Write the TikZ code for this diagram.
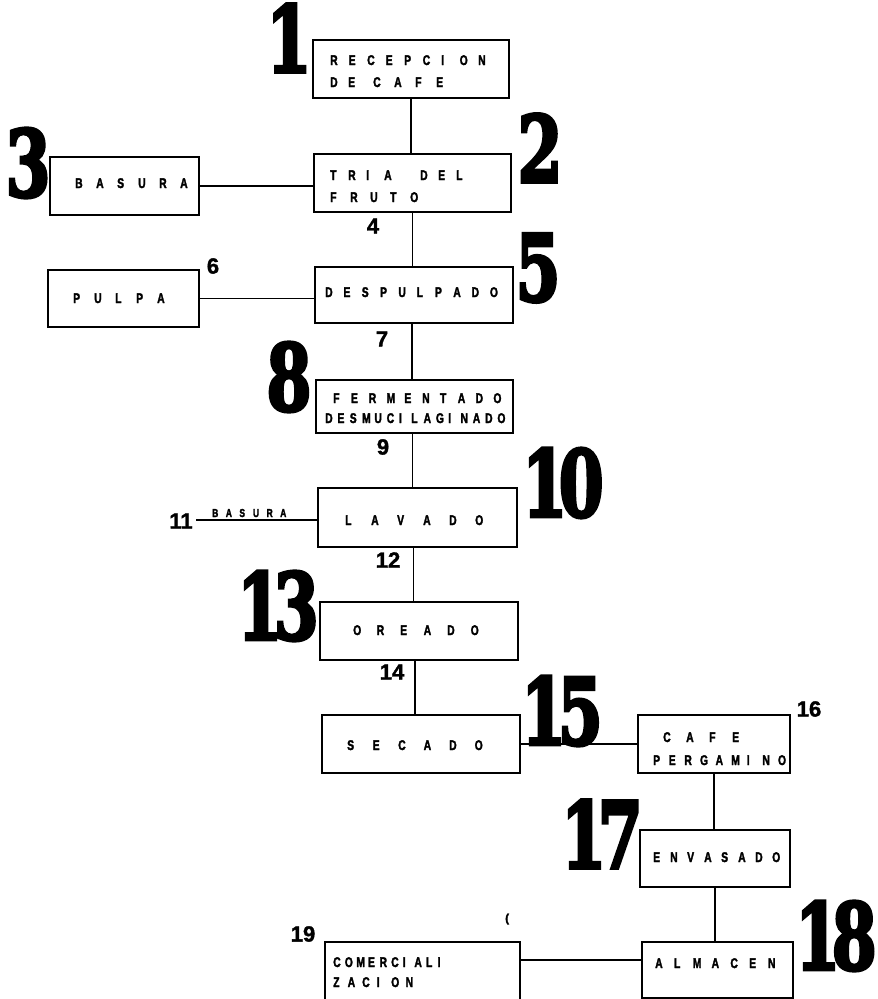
\documentclass[tikz,border=0pt]{standalone}
\usepackage{fontspec}
\usepackage{graphicx}
\newfontfamily\lblfont{Liberation Sans}[FakeBold=2.5]
\newfontfamily\numfont{Liberation Sans}[FakeBold=1.5]
\newfontfamily\bigfont{DejaVu Serif}[FakeBold=4]
\ExplSyntaxOn
\NewDocumentCommand\lsp{mm}{
  \str_map_inline:nn {#2} {
    \str_if_eq:nnTF {##1} {|} {\hspace*{#1}} {\makebox[#1][l]{\scalebox{0.74}[1]{##1}}}
  }
}
\ExplSyntaxOff
\newcommand\lbl{\lblfont\bfseries\fontsize{14}{14}\selectfont}
\newcommand\slbl{\lblfont\bfseries\fontsize{11.5}{11.5}\selectfont}
\newcommand\smn{\numfont\bfseries\fontsize{22}{22}\selectfont}
\newcommand\bign[1]{\scalebox{0.7}[1]{\bigfont\bfseries\fontsize{92}{92}\selectfont #1}}
\tikzset{
  box/.style={draw, line width=1.8pt, anchor=north west, inner sep=0pt, outer sep=0pt},
  conn/.style={line width=1.5pt},
  txt/.style={anchor=base west, inner sep=0pt, font=\lbl},
  stxt/.style={anchor=base west, inner sep=0pt, font=\slbl},
  bignum/.style={anchor=center, inner sep=0pt},
  smnum/.style={anchor=center, inner sep=0pt, font=\smn},
}
\begin{document}
\begin{tikzpicture}[x=1pt,y=-1pt]
\useasboundingbox (0,0) rectangle (878,999);
\clip (0,0) rectangle (878,999);
% boxes
\node[box, minimum width=196pt, minimum height=58pt] (b1) at (313,40) {};
\node[box, minimum width=197pt, minimum height=58pt] (b2) at (314,154) {};
\node[box, minimum width=149pt, minimum height=58pt] (b3) at (50,157) {};
\node[box, minimum width=198pt, minimum height=56pt] (b5) at (315,267) {};
\node[box, minimum width=151pt, minimum height=57pt] (b6) at (48,270) {};
\node[box, minimum width=197pt, minimum height=53pt] (b8) at (316,380) {};
\node[box, minimum width=199pt, minimum height=59pt] (b10) at (318,488) {};
\node[box, minimum width=198pt, minimum height=58pt] (b13) at (320,602) {};
\node[box, minimum width=198pt, minimum height=58pt] (b15) at (322,715) {};
\node[box, minimum width=152pt, minimum height=58pt] (b16) at (638,715) {};
\node[box, minimum width=150pt, minimum height=57pt] (b17) at (640,830) {};
\node[box, minimum width=151pt, minimum height=56pt] (b18) at (642,942) {};
\node[box, minimum width=195pt, minimum height=63pt] (b19) at (325,942) {};
% box texts
\node[txt] (t1a) at (330,65) {\lsp{18.5pt}{RECEPCION}};
\node[txt] (t1b) at (330,87) {\lsp{18pt}{DE}\hspace{7pt}\lsp{21pt}{CAFE}};
\node[txt] (t2a) at (330,180) {\lsp{18pt}{TRIA|DEL}};
\node[txt] (t2b) at (330,202) {\lsp{20pt}{FRUTO}};
\node[txt] (t3) at (75,188) {\lsp{21pt}{BASURA}};
\node[txt] (t5) at (325,297) {\lsp{18.3pt}{DESPULPADO}};
\node[txt] (t6) at (73,303) {\lsp{21pt}{PULPA}};
\node[txt] (t8a) at (333,403) {\lsp{17.8pt}{FERMENTADO}};
\node[txt] (t8b) at (325,423) {\lsp{12.3pt}{DESMUCILAGINADO}};
\node[txt] (t10) at (345,525) {\lsp{26pt}{LAVADO}};
\node[txt] (t13) at (353,635) {\lsp{23.5pt}{OREADO}};
\node[txt] (t15) at (347,750) {\lsp{25.5pt}{SECADO}};
\node[txt] (t16a) at (663,742) {\lsp{23pt}{CAFE}};
\node[txt] (t16b) at (653,765) {\lsp{15.6pt}{PERGAMINO}};
\node[txt] (t17) at (653,862) {\lsp{17pt}{ENVASADO}};
\node[txt] (t18) at (655,968) {\lsp{18.8pt}{ALMACEN}};
\node[txt] (t19a) at (333,967) {\lsp{11.6pt}{COMERCIALI}};
\node[txt] (t19b) at (333,987) {\lsp{14.5pt}{ZACION}};
\node[stxt] (t11) at (212,517) {\lsp{13.6pt}{BASURA}};
\node[stxt] (paren) at (505,922) {(};
% connectors
\draw[conn] (b1.south) -- (b1.south |- b2.north);
\draw[conn] (b3.east) -- (b3.east -| b2.west);
\draw[conn] (b2.south) -- (b2.south |- b5.north);
\draw[conn] (b6.east) -- (b6.east -| b5.west);
\draw[conn] ([xshift=-2pt]b5.south) -- ([xshift=-2pt]b5.south |- b8.north);
\draw[conn] ([xshift=-2pt]b8.south) -- ([xshift=-2pt]b8.south |- b10.north);
\draw[conn] ([xshift=-4pt]b10.south) -- ([xshift=-4pt]b10.south |- b13.north);
\draw[conn] ([xshift=-4pt]b13.south) -- ([xshift=-4pt]b13.south |- b15.north);
\draw[conn] (b15.east) -- (b15.east -| b16.west);
\draw[conn] (b16.south) -- (b16.south |- b17.north);
\draw[conn] (b17.south) -- (b17.south |- b18.north);
\draw[conn] ([yshift=10pt]b18.west) -- ([yshift=10pt]b18.west -| b19.east);
\coordinate (c11) at (196,520);
\draw[conn] (c11) -- (c11 -| b10.west);
% small numbers
\node[smnum] (n4) at (373,226) {4};
\node[smnum] (n6) at (213,266) {6};
\node[smnum] (n7) at (382,339) {7};
\node[smnum] (n9) at (383,447) {9};
\node[smnum] (n11) at (181,521) {11};
\node[smnum] (n12) at (388,560) {12};
\node[smnum] (n14) at (392,672) {14};
\node[smnum] (n16) at (809,709) {16};
\node[smnum] (n19) at (303,934) {19};
% big numbers
\node[bignum] (n1) at (289,38) {\bign{1}};
\node[bignum] (n2) at (540,148) {\bign{2}};
\node[bignum] (n3) at (28,163) {\bign{3}};
\node[bignum] (n5) at (538,268) {\bign{5}};
\node[bignum] (n8) at (289,377) {\bign{8}};
\node[bignum] (n10) at (563,483) {\bign{1\kern-12pt0}};
\node[bignum] (n13) at (278,606) {\bign{1\kern-12pt3}};
\node[bignum] (n15) at (562,711) {\bign{1\kern-12pt5}};
\node[bignum] (n17) at (602,834) {\bign{1\kern-12pt7}};
\node[bignum] (n18) at (836,936) {\bign{1\kern-12pt8}};
\end{tikzpicture}
\end{document}
